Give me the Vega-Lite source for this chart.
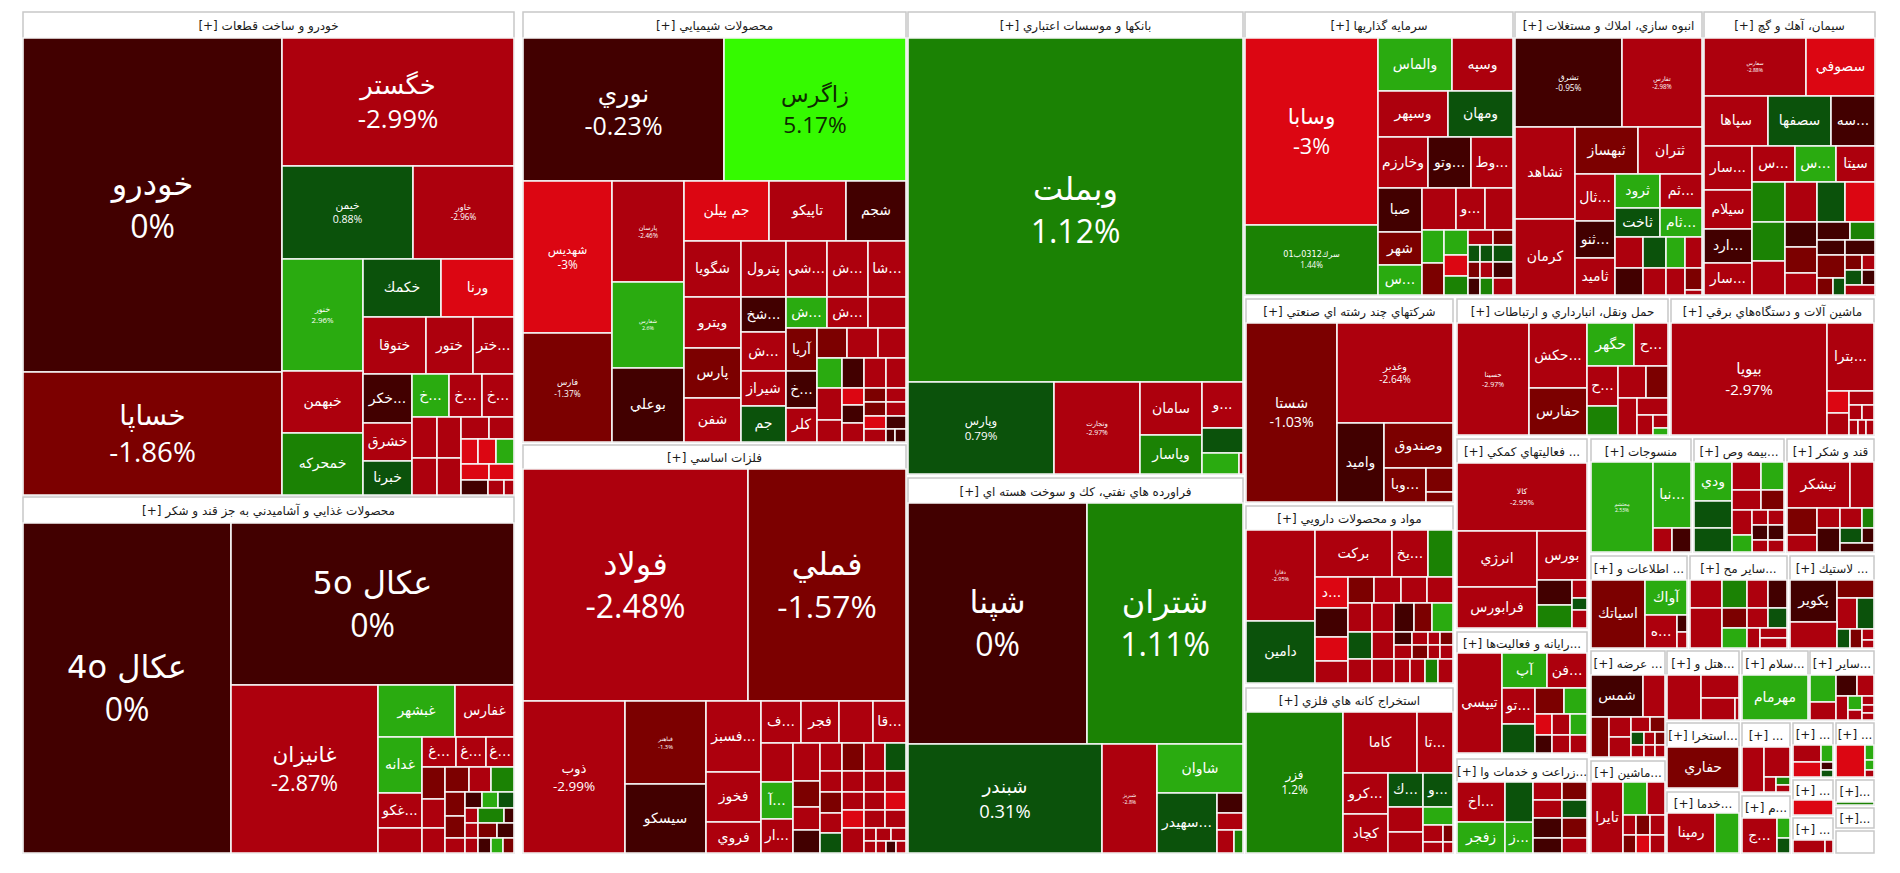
{
"$schema":"https://vega.github.io/schema/vega-lite/v6.json",
"width":1900,"height":873,
"autosize":{"type":"fit","contains":"padding"},
"padding":0,
"background":"white",
"config":{"view":{"stroke":null}},
"datasets":{
"sectors":[
{"t":"[+] خودرو و ساخت قطعات","x0":23,"x1":514,"y0":12,"y1":495,"hy":38},
{"t":"[+] محصولات غذايي و آشاميدني به جز قند و شكر","x0":23,"x1":514,"y0":497,"y1":853,"hy":523},
{"t":"[+] محصولات شيميايي","x0":523,"x1":906,"y0":12,"y1":442,"hy":38},
{"t":"[+] فلزات اساسي","x0":523,"x1":906,"y0":445,"y1":853,"hy":469},
{"t":"[+] بانكها و موسسات اعتباري","x0":908,"x1":1243,"y0":12,"y1":474,"hy":38},
{"t":"[+] فراورده هاي نفتي، كك و سوخت هسته اي","x0":908,"x1":1243,"y0":478,"y1":853,"hy":503},
{"t":"[+] سرمايه گذاريها","x0":1245,"x1":1513,"y0":12,"y1":295,"hy":38},
{"t":"[+] انبوه سازي، املاك و مستغلات","x0":1515,"x1":1702,"y0":12,"y1":295,"hy":38},
{"t":"[+] سيمان، آهك و گچ","x0":1704,"x1":1875,"y0":12,"y1":295,"hy":38},
{"t":"[+] شركتهاي چند رشته اي صنعتي","x0":1246,"x1":1453,"y0":299,"y1":502,"hy":323},
{"t":"[+] مواد و محصولات دارويي","x0":1246,"x1":1453,"y0":506,"y1":683,"hy":530},
{"t":"[+] استخراج كانه هاي فلزي","x0":1246,"x1":1453,"y0":688,"y1":853,"hy":712},
{"t":"[+] حمل ونقل، انبارداري و ارتباطات","x0":1457,"x1":1668,"y0":299,"y1":435,"hy":323},
{"t":"[+] ماشين آلات و دستگاه‌هاي برقي","x0":1671,"x1":1874,"y0":299,"y1":435,"hy":323},
{"t":"[+] فعاليتهاي كمكي ...","x0":1457,"x1":1587,"y0":439,"y1":628,"hy":463},
{"t":"[+] رايانه و فعاليت‌ها...","x0":1457,"x1":1587,"y0":632,"y1":753,"hy":653},
{"t":"[+] زراعت و خدمات وا...","x0":1457,"x1":1587,"y0":759,"y1":853,"hy":782},
{"t":"[+] منسوجات","x0":1591,"x1":1691,"y0":439,"y1":552,"hy":462},
{"t":"[+] بيمه وص...","x0":1694,"x1":1784,"y0":439,"y1":552,"hy":462},
{"t":"[+] قند و شكر","x0":1787,"x1":1874,"y0":439,"y1":552,"hy":462},
{"t":"[+] اطلاعات و ...","x0":1591,"x1":1687,"y0":556,"y1":648,"hy":580},
{"t":"[+] ساير مح...","x0":1690,"x1":1787,"y0":556,"y1":648,"hy":580},
{"t":"[+] لاستيك ...","x0":1790,"x1":1874,"y0":556,"y1":648,"hy":580},
{"t":"[+] عرضه ...","x0":1591,"x1":1665,"y0":651,"y1":757,"hy":675},
{"t":"[+] هتل و...","x0":1667,"x1":1739,"y0":651,"y1":720,"hy":675},
{"t":"[+] سلام...","x0":1742,"x1":1808,"y0":651,"y1":720,"hy":675},
{"t":"[+] ساير...","x0":1810,"x1":1874,"y0":651,"y1":720,"hy":675},
{"t":"[+] استخرا...","x0":1667,"x1":1739,"y0":723,"y1":788,"hy":747},
{"t":"[+] ...","x0":1742,"x1":1790,"y0":723,"y1":792,"hy":747},
{"t":"[+] ...","x0":1793,"x1":1833,"y0":723,"y1":777,"hy":745},
{"t":"[+] ...","x0":1836,"x1":1874,"y0":723,"y1":777,"hy":745},
{"t":"[+] خدما...","x0":1667,"x1":1739,"y0":792,"y1":853,"hy":813},
{"t":"[+] م...","x0":1742,"x1":1790,"y0":796,"y1":853,"hy":818},
{"t":"[+] ...","x0":1793,"x1":1833,"y0":780,"y1":815,"hy":800},
{"t":"[+]...","x0":1836,"x1":1874,"y0":780,"y1":805,"hy":802},
{"t":"[+] ...","x0":1793,"x1":1833,"y0":818,"y1":853,"hy":840},
{"t":"[+]...","x0":1836,"x1":1874,"y0":808,"y1":828,"hy":828},
{"t":"","x0":1836,"x1":1874,"y0":831,"y1":853,"hy":831},
{"t":"[+] ماشين...","x0":1591,"x1":1665,"y0":761,"y1":853,"hy":782}
],
"cells":[
{"s":"خودرو","c":0,"p":1,"x0":23,"x1":282,"y0":38,"y1":372},
{"s":"خساپا","c":-1.86,"p":1,"x0":23,"x1":282,"y0":372,"y1":495},
{"s":"خگستر","c":-2.99,"p":1,"x0":282,"x1":514,"y0":38,"y1":166},
{"s":"خيمن","c":0.88,"p":1,"x0":282,"x1":413,"y0":166,"y1":259},
{"s":"خاور","c":-2.96,"p":1,"x0":413,"x1":514,"y0":166,"y1":259},
{"s":"خنور","c":2.96,"p":1,"x0":282,"x1":363,"y0":259,"y1":371},
{"s":"خكمك","c":0.6,"x0":363,"x1":441,"y0":259,"y1":317},
{"s":"ورنا","c":-3,"x0":441,"x1":514,"y0":259,"y1":317},
{"s":"ختوقا","c":-2.5,"x0":363,"x1":426,"y0":317,"y1":374},
{"s":"ختور","c":-2.5,"x0":426,"x1":473,"y0":317,"y1":374},
{"s":"ختر...","c":-2.5,"x0":473,"x1":514,"y0":317,"y1":374},
{"s":"خبهمن","c":-2.5,"x0":282,"x1":363,"y0":371,"y1":433},
{"s":"خمحركه","c":1.5,"x0":282,"x1":363,"y0":433,"y1":495},
{"s":"خكر...","c":-0.5,"x0":363,"x1":412,"y0":374,"y1":423},
{"s":"خ...","c":2.5,"x0":412,"x1":449,"y0":374,"y1":417},
{"s":"خ...","c":-2.5,"x0":449,"x1":482,"y0":374,"y1":417},
{"s":"خ...","c":-2.5,"x0":482,"x1":514,"y0":374,"y1":417},
{"s":"خشرق","c":-2.5,"x0":363,"x1":412,"y0":423,"y1":461},
{"s":"خبرنا","c":0.5,"x0":363,"x1":412,"y0":461,"y1":495},
{"s":"","c":-2.5,"x0":412,"x1":437,"y0":417,"y1":458},
{"s":"","c":-2.5,"x0":437,"x1":461,"y0":417,"y1":458},
{"s":"","c":-2.5,"x0":412,"x1":437,"y0":458,"y1":495},
{"s":"","c":-2.5,"x0":437,"x1":461,"y0":458,"y1":495},
{"s":"","c":-2.5,"x0":461,"x1":489,"y0":417,"y1":439},
{"s":"","c":-2.5,"x0":489,"x1":514,"y0":417,"y1":439},
{"s":"","c":-3,"x0":461,"x1":478,"y0":439,"y1":464},
{"s":"","c":-3,"x0":478,"x1":496,"y0":439,"y1":464},
{"s":"","c":2.5,"x0":496,"x1":514,"y0":439,"y1":464},
{"s":"","c":-3,"x0":461,"x1":489,"y0":464,"y1":480},
{"s":"","c":-3,"x0":489,"x1":514,"y0":464,"y1":480},
{"s":"","c":-0.5,"x0":461,"x1":488,"y0":480,"y1":495},
{"s":"","c":-2.5,"x0":488,"x1":504,"y0":480,"y1":495},
{"s":"","c":-2.5,"x0":504,"x1":514,"y0":480,"y1":495},

{"s":"4o عكال","c":0,"p":1,"x0":23,"x1":231,"y0":523,"y1":853},
{"s":"5o عكال","c":0,"p":1,"x0":231,"x1":514,"y0":523,"y1":685},
{"s":"غانيزان","c":-2.87,"p":1,"x0":231,"x1":378,"y0":685,"y1":853},
{"s":"غبشهر","c":2.5,"x0":378,"x1":455,"y0":685,"y1":737},
{"s":"غفارس","c":-2.5,"x0":455,"x1":514,"y0":685,"y1":737},
{"s":"غدانه","c":2.5,"x0":378,"x1":422,"y0":737,"y1":793},
{"s":"غ...","c":-2.5,"x0":422,"x1":456,"y0":737,"y1":767},
{"s":"غ...","c":-2.5,"x0":456,"x1":486,"y0":737,"y1":767},
{"s":"غ...","c":-2.5,"x0":486,"x1":514,"y0":737,"y1":767},
{"s":"غكو...","c":-2.5,"x0":378,"x1":422,"y0":793,"y1":828},
{"s":"","c":-2.5,"x0":378,"x1":422,"y0":828,"y1":853},
{"s":"","c":-1.5,"x0":422,"x1":445,"y0":767,"y1":799},
{"s":"","c":-1.5,"x0":445,"x1":469,"y0":767,"y1":792},
{"s":"","c":-2.5,"x0":469,"x1":491,"y0":767,"y1":792},
{"s":"","c":1.5,"x0":491,"x1":514,"y0":767,"y1":792},
{"s":"","c":-2.5,"x0":422,"x1":445,"y0":799,"y1":828},
{"s":"","c":-2.5,"x0":422,"x1":445,"y0":828,"y1":853},
{"s":"","c":-1.5,"x0":445,"x1":465,"y0":792,"y1":816},
{"s":"","c":-1.5,"x0":445,"x1":465,"y0":816,"y1":838},
{"s":"","c":-2.5,"x0":445,"x1":465,"y0":838,"y1":853},
{"s":"","c":-0.5,"x0":465,"x1":482,"y0":792,"y1":808},
{"s":"","c":2.5,"x0":482,"x1":498,"y0":792,"y1":808},
{"s":"","c":0.5,"x0":498,"x1":514,"y0":792,"y1":808},
{"s":"","c":-2.5,"x0":465,"x1":478,"y0":808,"y1":823},
{"s":"","c":1.5,"x0":478,"x1":504,"y0":808,"y1":823},
{"s":"","c":-0.5,"x0":504,"x1":514,"y0":808,"y1":823},
{"s":"","c":-2.5,"x0":465,"x1":478,"y0":823,"y1":838},
{"s":"","c":-1.5,"x0":478,"x1":497,"y0":823,"y1":838},
{"s":"","c":-0.5,"x0":497,"x1":514,"y0":823,"y1":838},
{"s":"","c":-2.5,"x0":465,"x1":478,"y0":838,"y1":853},
{"s":"","c":-0.5,"x0":478,"x1":491,"y0":838,"y1":853},
{"s":"","c":2.5,"x0":491,"x1":503,"y0":838,"y1":853},
{"s":"","c":-1.5,"x0":503,"x1":514,"y0":838,"y1":853},

{"s":"نوري","c":-0.23,"p":1,"x0":523,"x1":724,"y0":38,"y1":181},
{"s":"زاگرس","c":5.17,"p":1,"x0":724,"x1":906,"y0":38,"y1":181},
{"s":"شهديس","c":-3,"p":1,"x0":523,"x1":612,"y0":181,"y1":333},
{"s":"فارس","c":-1.37,"p":1,"x0":523,"x1":612,"y0":333,"y1":442},
{"s":"پارسان","c":-2.46,"p":1,"x0":612,"x1":684,"y0":181,"y1":282},
{"s":"شفارس","c":2.6,"p":1,"x0":612,"x1":684,"y0":282,"y1":368},
{"s":"بوعلي","c":-0.5,"x0":612,"x1":684,"y0":368,"y1":442},
{"s":"جم پيلن","c":-3,"x0":684,"x1":769,"y0":181,"y1":241},
{"s":"تاپيكو","c":-2.5,"x0":769,"x1":846,"y0":181,"y1":241},
{"s":"شجم","c":-0.5,"x0":846,"x1":906,"y0":181,"y1":241},
{"s":"شگويا","c":-2.5,"x0":684,"x1":741,"y0":241,"y1":297},
{"s":"پترول","c":-2.5,"x0":741,"x1":786,"y0":241,"y1":297},
{"s":"شي...","c":-2.5,"x0":786,"x1":827,"y0":241,"y1":297},
{"s":"ش...","c":-2.5,"x0":827,"x1":868,"y0":241,"y1":297},
{"s":"شا...","c":-2.5,"x0":868,"x1":906,"y0":241,"y1":297},
{"s":"ويترو","c":-2.5,"x0":684,"x1":741,"y0":297,"y1":348},
{"s":"شخ...","c":-0.5,"x0":741,"x1":786,"y0":297,"y1":332},
{"s":"ش...","c":2.5,"x0":786,"x1":827,"y0":297,"y1":328},
{"s":"ش...","c":-2.5,"x0":827,"x1":868,"y0":297,"y1":328},
{"s":"","c":-2.5,"x0":868,"x1":906,"y0":297,"y1":328},
{"s":"پارس","c":-1.5,"x0":684,"x1":741,"y0":348,"y1":398},
{"s":"شفن","c":-2.5,"x0":684,"x1":741,"y0":398,"y1":442},
{"s":"ش...","c":-2.5,"x0":741,"x1":786,"y0":332,"y1":371},
{"s":"شيراز","c":-2.5,"x0":741,"x1":786,"y0":371,"y1":406},
{"s":"جم","c":0.5,"x0":741,"x1":786,"y0":406,"y1":442},
{"s":"آريا","c":-1.5,"x0":786,"x1":817,"y0":328,"y1":371},
{"s":"خ...","c":-0.5,"x0":786,"x1":817,"y0":371,"y1":408},
{"s":"كلر","c":-2.5,"x0":786,"x1":817,"y0":408,"y1":442},
{"s":"","c":-1.5,"x0":817,"x1":847,"y0":328,"y1":358},
{"s":"","c":-2.5,"x0":847,"x1":878,"y0":328,"y1":358},
{"s":"","c":-2.5,"x0":878,"x1":906,"y0":328,"y1":358},
{"s":"","c":2.5,"x0":817,"x1":842,"y0":358,"y1":388},
{"s":"","c":-0.5,"x0":842,"x1":864,"y0":358,"y1":388},
{"s":"","c":-2.5,"x0":864,"x1":886,"y0":358,"y1":388},
{"s":"","c":-2.5,"x0":886,"x1":906,"y0":358,"y1":388},
{"s":"","c":-2.5,"x0":817,"x1":842,"y0":388,"y1":420},
{"s":"","c":-2.5,"x0":817,"x1":842,"y0":420,"y1":442},
{"s":"","c":-3,"x0":842,"x1":864,"y0":388,"y1":405},
{"s":"","c":-0.5,"x0":842,"x1":864,"y0":405,"y1":423},
{"s":"","c":-2.5,"x0":842,"x1":864,"y0":423,"y1":442},
{"s":"","c":-1.5,"x0":864,"x1":886,"y0":388,"y1":402},
{"s":"","c":-2.5,"x0":886,"x1":906,"y0":388,"y1":402},
{"s":"","c":-1.5,"x0":864,"x1":886,"y0":402,"y1":416},
{"s":"","c":-2.5,"x0":886,"x1":906,"y0":402,"y1":416},
{"s":"","c":-3,"x0":864,"x1":886,"y0":416,"y1":429},
{"s":"","c":-0.5,"x0":886,"x1":906,"y0":416,"y1":429},
{"s":"","c":-2.5,"x0":864,"x1":886,"y0":429,"y1":442},
{"s":"","c":-0.5,"x0":886,"x1":895,"y0":429,"y1":442},
{"s":"","c":-0.5,"x0":895,"x1":906,"y0":429,"y1":442},

{"s":"فولاد","c":-2.48,"p":1,"x0":523,"x1":748,"y0":469,"y1":701},
{"s":"فملي","c":-1.57,"p":1,"x0":748,"x1":906,"y0":469,"y1":701},
{"s":"ذوب","c":-2.99,"p":1,"x0":523,"x1":625,"y0":701,"y1":853},
{"s":"فباهنر","c":-1.3,"p":1,"x0":625,"x1":706,"y0":701,"y1":784},
{"s":"سيسكو","c":-0.5,"x0":625,"x1":706,"y0":784,"y1":853},
{"s":"فسبز...","c":-2.5,"x0":706,"x1":761,"y0":701,"y1":772},
{"s":"فخوز","c":-2.5,"x0":706,"x1":761,"y0":772,"y1":822},
{"s":"فروي","c":-2.5,"x0":706,"x1":761,"y0":822,"y1":853},
{"s":"ف...","c":-2.5,"x0":761,"x1":801,"y0":701,"y1":743},
{"s":"فجر","c":-2.5,"x0":801,"x1":839,"y0":701,"y1":743},
{"s":"","c":-2.5,"x0":839,"x1":873,"y0":701,"y1":743},
{"s":"قا...","c":-2.5,"x0":873,"x1":906,"y0":701,"y1":743},
{"s":"","c":-2.5,"x0":761,"x1":793,"y0":743,"y1":782},
{"s":"آ...","c":2.5,"x0":761,"x1":793,"y0":782,"y1":819},
{"s":"ار...","c":-2.5,"x0":761,"x1":793,"y0":819,"y1":853},
{"s":"","c":-2.5,"x0":793,"x1":820,"y0":743,"y1":781},
{"s":"","c":-1.5,"x0":793,"x1":820,"y0":781,"y1":807},
{"s":"","c":-2.5,"x0":793,"x1":820,"y0":807,"y1":830},
{"s":"","c":-0.5,"x0":793,"x1":820,"y0":830,"y1":853},
{"s":"","c":-2.5,"x0":820,"x1":842,"y0":743,"y1":771},
{"s":"","c":-1.5,"x0":842,"x1":864,"y0":743,"y1":771},
{"s":"","c":-2.5,"x0":864,"x1":885,"y0":743,"y1":771},
{"s":"","c":0.5,"x0":885,"x1":906,"y0":743,"y1":771},
{"s":"","c":-2.5,"x0":820,"x1":842,"y0":771,"y1":792},
{"s":"","c":-2.5,"x0":842,"x1":864,"y0":771,"y1":792},
{"s":"","c":-2.5,"x0":864,"x1":885,"y0":771,"y1":792},
{"s":"","c":-2.5,"x0":885,"x1":906,"y0":771,"y1":792},
{"s":"","c":-1.5,"x0":820,"x1":842,"y0":792,"y1":813},
{"s":"","c":-2.5,"x0":842,"x1":864,"y0":792,"y1":810},
{"s":"","c":-2.5,"x0":864,"x1":885,"y0":792,"y1":810},
{"s":"","c":-3,"x0":885,"x1":906,"y0":792,"y1":810},
{"s":"","c":-2.5,"x0":820,"x1":842,"y0":813,"y1":833},
{"s":"","c":-3,"x0":842,"x1":864,"y0":810,"y1":828},
{"s":"","c":-2.5,"x0":864,"x1":885,"y0":810,"y1":828},
{"s":"","c":-2.5,"x0":885,"x1":906,"y0":810,"y1":828},
{"s":"","c":0.5,"x0":820,"x1":842,"y0":833,"y1":853},
{"s":"","c":-2.5,"x0":842,"x1":864,"y0":828,"y1":853},
{"s":"","c":-2.5,"x0":864,"x1":876,"y0":828,"y1":841},
{"s":"","c":-2.5,"x0":876,"x1":891,"y0":828,"y1":841},
{"s":"","c":-2.5,"x0":891,"x1":906,"y0":828,"y1":841},
{"s":"","c":-2.5,"x0":864,"x1":876,"y0":841,"y1":853},
{"s":"","c":-2.5,"x0":876,"x1":886,"y0":841,"y1":853},
{"s":"","c":-0.5,"x0":886,"x1":896,"y0":841,"y1":853},
{"s":"","c":-2.5,"x0":896,"x1":906,"y0":841,"y1":853},

{"s":"وبملت","c":1.12,"p":1,"x0":908,"x1":1243,"y0":38,"y1":382},
{"s":"وپارس","c":0.79,"p":1,"x0":908,"x1":1054,"y0":382,"y1":474},
{"s":"وتجارت","c":-2.97,"p":1,"x0":1054,"x1":1140,"y0":382,"y1":474},
{"s":"سامان","c":-2.5,"x0":1140,"x1":1202,"y0":382,"y1":435},
{"s":"وپاسار","c":1.5,"x0":1140,"x1":1202,"y0":435,"y1":474},
{"s":"و...","c":-2.5,"x0":1202,"x1":1243,"y0":382,"y1":428},
{"s":"","c":0.5,"x0":1202,"x1":1243,"y0":428,"y1":453},
{"s":"","c":2.5,"x0":1202,"x1":1239,"y0":453,"y1":474},
{"s":"","c":-2.5,"x0":1239,"x1":1243,"y0":453,"y1":474},

{"s":"شپنا","c":0,"p":1,"x0":908,"x1":1087,"y0":503,"y1":744},
{"s":"شتران","c":1.11,"p":1,"x0":1087,"x1":1243,"y0":503,"y1":744},
{"s":"شبندر","c":0.31,"p":1,"x0":908,"x1":1102,"y0":744,"y1":853},
{"s":"شبريز","c":-2.8,"p":1,"x0":1102,"x1":1157,"y0":744,"y1":853},
{"s":"شاوان","c":2.5,"x0":1157,"x1":1243,"y0":744,"y1":793},
{"s":"سهيدر...","c":0.5,"x0":1157,"x1":1217,"y0":793,"y1":853},
{"s":"","c":-0.5,"x0":1217,"x1":1243,"y0":793,"y1":813},
{"s":"","c":-2.5,"x0":1217,"x1":1243,"y0":813,"y1":830},
{"s":"","c":-2.5,"x0":1217,"x1":1234,"y0":830,"y1":853},
{"s":"","c":1.5,"x0":1234,"x1":1243,"y0":830,"y1":853},

{"s":"وسابا","c":-3,"p":1,"x0":1245,"x1":1378,"y0":38,"y1":225},
{"s":"سرك0312ب01","c":1.44,"p":1,"x0":1245,"x1":1378,"y0":225,"y1":295},
{"s":"والماس","c":2.5,"x0":1378,"x1":1452,"y0":38,"y1":91},
{"s":"وسپه","c":-2.5,"x0":1452,"x1":1513,"y0":38,"y1":91},
{"s":"وسپهر","c":-2.5,"x0":1378,"x1":1448,"y0":91,"y1":137},
{"s":"ومهان","c":0.5,"x0":1448,"x1":1513,"y0":91,"y1":137},
{"s":"وخارزم","c":-2.5,"x0":1378,"x1":1428,"y0":137,"y1":188},
{"s":"وتو...","c":-0.5,"x0":1428,"x1":1471,"y0":137,"y1":188},
{"s":"وط...","c":-2.5,"x0":1471,"x1":1513,"y0":137,"y1":188},
{"s":"صبا","c":-0.5,"x0":1378,"x1":1422,"y0":188,"y1":232},
{"s":"","c":-2.5,"x0":1422,"x1":1456,"y0":188,"y1":230},
{"s":"و...","c":-2.5,"x0":1456,"x1":1485,"y0":188,"y1":230},
{"s":"","c":-2.5,"x0":1485,"x1":1513,"y0":188,"y1":230},
{"s":"شهر","c":-1.5,"x0":1378,"x1":1422,"y0":232,"y1":265},
{"s":"س...","c":2.5,"x0":1378,"x1":1422,"y0":265,"y1":295},
{"s":"","c":2.5,"x0":1422,"x1":1444,"y0":230,"y1":263},
{"s":"","c":2.5,"x0":1444,"x1":1468,"y0":230,"y1":255},
{"s":"","c":-1.5,"x0":1422,"x1":1444,"y0":263,"y1":295},
{"s":"","c":-3,"x0":1444,"x1":1468,"y0":255,"y1":276},
{"s":"","c":1.5,"x0":1444,"x1":1468,"y0":276,"y1":295},
{"s":"","c":-2.5,"x0":1468,"x1":1493,"y0":230,"y1":245},
{"s":"","c":-1.5,"x0":1493,"x1":1513,"y0":230,"y1":245},
{"s":"","c":0.5,"x0":1468,"x1":1480,"y0":245,"y1":262},
{"s":"","c":0.5,"x0":1480,"x1":1493,"y0":245,"y1":262},
{"s":"","c":0.5,"x0":1493,"x1":1513,"y0":245,"y1":262},
{"s":"","c":-1.5,"x0":1468,"x1":1480,"y0":262,"y1":278},
{"s":"","c":-2.5,"x0":1480,"x1":1493,"y0":262,"y1":278},
{"s":"","c":-0.5,"x0":1493,"x1":1513,"y0":262,"y1":278},
{"s":"","c":-0.5,"x0":1468,"x1":1480,"y0":278,"y1":295},
{"s":"","c":1.5,"x0":1480,"x1":1493,"y0":278,"y1":295},
{"s":"","c":-2.5,"x0":1493,"x1":1513,"y0":278,"y1":295},

{"s":"تشرق","c":-0.95,"p":1,"x0":1515,"x1":1622,"y0":38,"y1":127},
{"s":"تفارس","c":-2.98,"p":1,"x0":1622,"x1":1702,"y0":38,"y1":127},
{"s":"ثشاهد","c":-2.5,"x0":1515,"x1":1575,"y0":127,"y1":219},
{"s":"كرمان","c":-2.5,"x0":1515,"x1":1575,"y0":219,"y1":295},
{"s":"ثبهساز","c":-1.5,"x0":1575,"x1":1638,"y0":127,"y1":174},
{"s":"ثتران","c":-2.5,"x0":1638,"x1":1702,"y0":127,"y1":174},
{"s":"ثال...","c":-2.5,"x0":1575,"x1":1615,"y0":174,"y1":221},
{"s":"ثنو...","c":-0.5,"x0":1575,"x1":1615,"y0":221,"y1":258},
{"s":"ثاميد","c":-2.5,"x0":1575,"x1":1615,"y0":258,"y1":295},
{"s":"ثرود","c":2.5,"x0":1615,"x1":1660,"y0":174,"y1":208},
{"s":"ثم...","c":-2.5,"x0":1660,"x1":1702,"y0":174,"y1":208},
{"s":"ثاخت","c":0.5,"x0":1615,"x1":1660,"y0":208,"y1":237},
{"s":"ثام...","c":2.5,"x0":1660,"x1":1702,"y0":208,"y1":237},
{"s":"","c":-2.5,"x0":1615,"x1":1643,"y0":237,"y1":268},
{"s":"","c":0.5,"x0":1643,"x1":1666,"y0":237,"y1":268},
{"s":"","c":2.5,"x0":1666,"x1":1685,"y0":237,"y1":268},
{"s":"","c":-2.5,"x0":1685,"x1":1702,"y0":237,"y1":268},
{"s":"","c":-0.5,"x0":1615,"x1":1643,"y0":268,"y1":295},
{"s":"","c":-2.5,"x0":1643,"x1":1666,"y0":268,"y1":295},
{"s":"","c":-2.5,"x0":1666,"x1":1685,"y0":268,"y1":295},
{"s":"","c":-1.5,"x0":1685,"x1":1702,"y0":268,"y1":290},
{"s":"","c":-2.5,"x0":1685,"x1":1702,"y0":290,"y1":295},

{"s":"سفارس","c":-2.88,"p":1,"x0":1704,"x1":1806,"y0":38,"y1":96},
{"s":"سصوفي","c":-3,"x0":1806,"x1":1875,"y0":38,"y1":96},
{"s":"سپاها","c":-2.5,"x0":1704,"x1":1768,"y0":96,"y1":146},
{"s":"سصفها","c":0.5,"x0":1768,"x1":1831,"y0":96,"y1":146},
{"s":"سه...","c":-0.5,"x0":1831,"x1":1875,"y0":96,"y1":146},
{"s":"سار...","c":-2.5,"x0":1704,"x1":1752,"y0":146,"y1":190},
{"s":"س...","c":-2.5,"x0":1752,"x1":1795,"y0":146,"y1":182},
{"s":"س...","c":2.5,"x0":1795,"x1":1836,"y0":146,"y1":182},
{"s":"سيتا","c":-2.5,"x0":1836,"x1":1875,"y0":146,"y1":182},
{"s":"سيلام","c":-2.5,"x0":1704,"x1":1752,"y0":190,"y1":229},
{"s":"ارد...","c":-0.5,"x0":1704,"x1":1752,"y0":229,"y1":263},
{"s":"سار...","c":-2.5,"x0":1704,"x1":1752,"y0":263,"y1":295},
{"s":"","c":1.5,"x0":1752,"x1":1785,"y0":182,"y1":222},
{"s":"","c":1.5,"x0":1752,"x1":1785,"y0":222,"y1":261},
{"s":"","c":-2.5,"x0":1752,"x1":1785,"y0":261,"y1":295},
{"s":"","c":-2.5,"x0":1785,"x1":1817,"y0":182,"y1":222},
{"s":"","c":0.5,"x0":1817,"x1":1845,"y0":182,"y1":222},
{"s":"","c":-3,"x0":1845,"x1":1875,"y0":182,"y1":222},
{"s":"","c":-0.5,"x0":1785,"x1":1817,"y0":222,"y1":247},
{"s":"","c":-0.5,"x0":1817,"x1":1850,"y0":222,"y1":240},
{"s":"","c":1.5,"x0":1850,"x1":1875,"y0":222,"y1":240},
{"s":"","c":-1.5,"x0":1785,"x1":1817,"y0":247,"y1":273},
{"s":"","c":-2.5,"x0":1785,"x1":1817,"y0":273,"y1":295},
{"s":"","c":-0.5,"x0":1817,"x1":1845,"y0":240,"y1":255},
{"s":"","c":-0.5,"x0":1845,"x1":1875,"y0":240,"y1":255},
{"s":"","c":-1.5,"x0":1817,"x1":1845,"y0":255,"y1":278},
{"s":"","c":-1.5,"x0":1817,"x1":1833,"y0":278,"y1":295},
{"s":"","c":0.5,"x0":1833,"x1":1845,"y0":278,"y1":295},
{"s":"","c":-1.5,"x0":1845,"x1":1862,"y0":255,"y1":270},
{"s":"","c":-2.5,"x0":1862,"x1":1875,"y0":255,"y1":270},
{"s":"","c":0.5,"x0":1845,"x1":1862,"y0":270,"y1":285},
{"s":"","c":-0.5,"x0":1862,"x1":1875,"y0":270,"y1":285},
{"s":"","c":-2.5,"x0":1845,"x1":1875,"y0":285,"y1":295},

{"s":"شستا","c":-1.03,"p":1,"x0":1246,"x1":1337,"y0":323,"y1":502},
{"s":"وغدير","c":-2.64,"p":1,"x0":1337,"x1":1453,"y0":323,"y1":423},
{"s":"واميد","c":-0.5,"x0":1337,"x1":1384,"y0":423,"y1":502},
{"s":"وصندوق","c":-1.5,"x0":1384,"x1":1453,"y0":423,"y1":468},
{"s":"وبا...","c":-1.5,"x0":1384,"x1":1426,"y0":468,"y1":502},
{"s":"","c":-1.5,"x0":1426,"x1":1453,"y0":468,"y1":492},
{"s":"","c":-1.5,"x0":1426,"x1":1453,"y0":492,"y1":502},

{"s":"دفارا","c":-2.95,"p":1,"x0":1246,"x1":1315,"y0":530,"y1":621},
{"s":"دامين","c":0.5,"x0":1246,"x1":1315,"y0":621,"y1":683},
{"s":"بركت","c":-2.5,"x0":1315,"x1":1392,"y0":530,"y1":577},
{"s":"يخ...","c":-2.5,"x0":1392,"x1":1428,"y0":530,"y1":577},
{"s":"","c":1.5,"x0":1428,"x1":1453,"y0":530,"y1":577},
{"s":"د...","c":-3,"x0":1315,"x1":1348,"y0":577,"y1":608},
{"s":"","c":-0.5,"x0":1315,"x1":1348,"y0":608,"y1":637},
{"s":"","c":-3,"x0":1315,"x1":1348,"y0":637,"y1":661},
{"s":"","c":-2.5,"x0":1315,"x1":1348,"y0":661,"y1":683},
{"s":"","c":-1.5,"x0":1348,"x1":1374,"y0":577,"y1":603},
{"s":"","c":-2.5,"x0":1374,"x1":1401,"y0":577,"y1":603},
{"s":"","c":-2.5,"x0":1401,"x1":1427,"y0":577,"y1":603},
{"s":"","c":-2.5,"x0":1427,"x1":1453,"y0":577,"y1":603},
{"s":"","c":-2.5,"x0":1348,"x1":1372,"y0":603,"y1":632},
{"s":"","c":-2.5,"x0":1372,"x1":1394,"y0":603,"y1":632},
{"s":"","c":-0.5,"x0":1394,"x1":1414,"y0":603,"y1":632},
{"s":"","c":-1.5,"x0":1414,"x1":1432,"y0":603,"y1":632},
{"s":"","c":2.5,"x0":1432,"x1":1453,"y0":603,"y1":632},
{"s":"","c":0.5,"x0":1348,"x1":1372,"y0":632,"y1":659},
{"s":"","c":-2.5,"x0":1372,"x1":1394,"y0":632,"y1":659},
{"s":"","c":-0.5,"x0":1394,"x1":1412,"y0":632,"y1":645},
{"s":"","c":-2.5,"x0":1412,"x1":1428,"y0":632,"y1":645},
{"s":"","c":-2.5,"x0":1428,"x1":1440,"y0":632,"y1":645},
{"s":"","c":-1.5,"x0":1440,"x1":1453,"y0":632,"y1":645},
{"s":"","c":-2.5,"x0":1394,"x1":1412,"y0":645,"y1":659},
{"s":"","c":-1.5,"x0":1412,"x1":1428,"y0":645,"y1":659},
{"s":"","c":-2.5,"x0":1428,"x1":1440,"y0":645,"y1":659},
{"s":"","c":-2.5,"x0":1440,"x1":1453,"y0":645,"y1":659},
{"s":"","c":-2.5,"x0":1348,"x1":1372,"y0":659,"y1":683},
{"s":"","c":-2.5,"x0":1372,"x1":1394,"y0":659,"y1":683},
{"s":"","c":-2.5,"x0":1394,"x1":1410,"y0":659,"y1":683},
{"s":"","c":-2.5,"x0":1410,"x1":1425,"y0":659,"y1":683},
{"s":"","c":1.5,"x0":1425,"x1":1438,"y0":659,"y1":683},
{"s":"","c":-2.5,"x0":1438,"x1":1453,"y0":659,"y1":683},

{"s":"فزر","c":1.2,"p":1,"x0":1246,"x1":1343,"y0":712,"y1":853},
{"s":"كاما","c":-2.5,"x0":1343,"x1":1417,"y0":712,"y1":773},
{"s":"تا...","c":-2.5,"x0":1417,"x1":1453,"y0":712,"y1":773},
{"s":"كرو...","c":-2.5,"x0":1343,"x1":1388,"y0":773,"y1":814},
{"s":"كچاد","c":-2.5,"x0":1343,"x1":1388,"y0":814,"y1":853},
{"s":"ك...","c":0.5,"x0":1388,"x1":1423,"y0":773,"y1":807},
{"s":"و...","c":0.5,"x0":1423,"x1":1453,"y0":773,"y1":807},
{"s":"","c":-2.5,"x0":1388,"x1":1423,"y0":807,"y1":832},
{"s":"","c":-2.5,"x0":1388,"x1":1423,"y0":832,"y1":853},
{"s":"","c":2.5,"x0":1423,"x1":1453,"y0":807,"y1":825},
{"s":"","c":-2.5,"x0":1423,"x1":1443,"y0":825,"y1":842},
{"s":"","c":-1.5,"x0":1443,"x1":1453,"y0":825,"y1":842},
{"s":"","c":-2.5,"x0":1423,"x1":1443,"y0":842,"y1":853},
{"s":"","c":-2.5,"x0":1443,"x1":1453,"y0":842,"y1":853},

{"s":"حسينا","c":-2.97,"p":1,"x0":1457,"x1":1529,"y0":323,"y1":435},
{"s":"حكش...","c":-2.5,"x0":1529,"x1":1587,"y0":323,"y1":388},
{"s":"حفارس","c":-1.5,"x0":1529,"x1":1587,"y0":388,"y1":435},
{"s":"حگهر","c":2.5,"x0":1587,"x1":1634,"y0":323,"y1":366},
{"s":"ح...","c":-2.5,"x0":1634,"x1":1668,"y0":323,"y1":366},
{"s":"ح...","c":-2.5,"x0":1587,"x1":1618,"y0":366,"y1":406},
{"s":"","c":1.5,"x0":1587,"x1":1618,"y0":406,"y1":435},
{"s":"","c":-2.5,"x0":1618,"x1":1646,"y0":366,"y1":398},
{"s":"","c":-1.5,"x0":1646,"x1":1668,"y0":366,"y1":398},
{"s":"","c":-2.5,"x0":1618,"x1":1637,"y0":398,"y1":435},
{"s":"","c":-2.5,"x0":1637,"x1":1668,"y0":398,"y1":415},
{"s":"","c":-2.5,"x0":1637,"x1":1653,"y0":415,"y1":435},
{"s":"","c":-2.5,"x0":1653,"x1":1668,"y0":415,"y1":428},
{"s":"","c":2.5,"x0":1653,"x1":1668,"y0":428,"y1":435},

{"s":"بيويا","c":-2.97,"p":1,"x0":1671,"x1":1827,"y0":323,"y1":435},
{"s":"بترا...","c":-2.5,"x0":1827,"x1":1874,"y0":323,"y1":391},
{"s":"","c":-3,"x0":1827,"x1":1849,"y0":391,"y1":413},
{"s":"","c":-2.5,"x0":1849,"x1":1874,"y0":391,"y1":405},
{"s":"","c":-2.5,"x0":1827,"x1":1849,"y0":413,"y1":435},
{"s":"","c":-2.5,"x0":1849,"x1":1862,"y0":405,"y1":420},
{"s":"","c":-2.5,"x0":1862,"x1":1874,"y0":405,"y1":420},
{"s":"","c":-2.5,"x0":1849,"x1":1858,"y0":420,"y1":435},
{"s":"","c":-2.5,"x0":1858,"x1":1866,"y0":420,"y1":435},
{"s":"","c":-2.5,"x0":1866,"x1":1874,"y0":420,"y1":435},

{"s":"كالا","c":-2.95,"p":1,"x0":1457,"x1":1587,"y0":463,"y1":531},
{"s":"انرژي","c":-2.5,"x0":1457,"x1":1537,"y0":531,"y1":587},
{"s":"بورس","c":-2.5,"x0":1537,"x1":1587,"y0":531,"y1":580},
{"s":"فرابورس","c":-2.5,"x0":1457,"x1":1537,"y0":587,"y1":628},
{"s":"","c":-0.5,"x0":1537,"x1":1572,"y0":580,"y1":605},
{"s":"","c":1.5,"x0":1537,"x1":1572,"y0":605,"y1":628},
{"s":"","c":-2.5,"x0":1572,"x1":1587,"y0":580,"y1":598},
{"s":"","c":0.5,"x0":1572,"x1":1587,"y0":598,"y1":610},
{"s":"","c":-2.5,"x0":1572,"x1":1587,"y0":610,"y1":628},

{"s":"تيپسي","c":-2.5,"x0":1457,"x1":1502,"y0":653,"y1":753},
{"s":"آپ","c":2.5,"x0":1502,"x1":1547,"y0":653,"y1":688},
{"s":"فن...","c":-2.5,"x0":1547,"x1":1587,"y0":653,"y1":688},
{"s":"تو...","c":-2.5,"x0":1502,"x1":1535,"y0":688,"y1":724},
{"s":"","c":0.5,"x0":1502,"x1":1535,"y0":724,"y1":753},
{"s":"","c":-1.5,"x0":1535,"x1":1564,"y0":688,"y1":714},
{"s":"","c":2.5,"x0":1564,"x1":1587,"y0":688,"y1":714},
{"s":"","c":-3,"x0":1535,"x1":1552,"y0":714,"y1":735},
{"s":"","c":-2.5,"x0":1552,"x1":1570,"y0":714,"y1":735},
{"s":"","c":2.5,"x0":1570,"x1":1587,"y0":714,"y1":735},
{"s":"","c":-0.5,"x0":1535,"x1":1552,"y0":735,"y1":753},
{"s":"","c":-2.5,"x0":1552,"x1":1570,"y0":735,"y1":753},
{"s":"","c":-2.5,"x0":1570,"x1":1587,"y0":735,"y1":753},

{"s":"اخ...","c":-2.5,"x0":1457,"x1":1505,"y0":782,"y1":822},
{"s":"زفجر","c":2.5,"x0":1457,"x1":1505,"y0":822,"y1":853},
{"s":"ز...","c":2.5,"x0":1505,"x1":1533,"y0":822,"y1":853},
{"s":"","c":0.5,"x0":1505,"x1":1533,"y0":782,"y1":822},
{"s":"","c":-2.5,"x0":1533,"x1":1562,"y0":782,"y1":800},
{"s":"","c":-1.5,"x0":1562,"x1":1587,"y0":782,"y1":800},
{"s":"","c":-2.5,"x0":1533,"x1":1562,"y0":800,"y1":818},
{"s":"","c":0.5,"x0":1562,"x1":1587,"y0":800,"y1":818},
{"s":"","c":-0.5,"x0":1533,"x1":1562,"y0":818,"y1":838},
{"s":"","c":-1.5,"x0":1562,"x1":1587,"y0":818,"y1":838},
{"s":"","c":-0.5,"x0":1533,"x1":1562,"y0":838,"y1":853},
{"s":"","c":-2.5,"x0":1562,"x1":1587,"y0":838,"y1":853},

{"s":"محتشم","c":2.53,"p":1,"x0":1591,"x1":1653,"y0":462,"y1":552},
{"s":"نبا...","c":2.5,"x0":1653,"x1":1691,"y0":462,"y1":528},
{"s":"","c":-2.5,"x0":1653,"x1":1672,"y0":528,"y1":552},
{"s":"","c":-0.5,"x0":1672,"x1":1691,"y0":528,"y1":552},

{"s":"ودي","c":2.5,"x0":1694,"x1":1732,"y0":462,"y1":501},
{"s":"","c":0.5,"x0":1694,"x1":1732,"y0":501,"y1":528},
{"s":"","c":0.5,"x0":1694,"x1":1732,"y0":528,"y1":552},
{"s":"","c":-2.5,"x0":1732,"x1":1761,"y0":462,"y1":490},
{"s":"","c":2.5,"x0":1761,"x1":1784,"y0":462,"y1":490},
{"s":"","c":-2.5,"x0":1732,"x1":1761,"y0":490,"y1":510},
{"s":"","c":-1.5,"x0":1761,"x1":1784,"y0":490,"y1":510},
{"s":"","c":-2.5,"x0":1732,"x1":1752,"y0":510,"y1":535},
{"s":"","c":-2.5,"x0":1752,"x1":1768,"y0":510,"y1":525},
{"s":"","c":-2.5,"x0":1768,"x1":1784,"y0":510,"y1":525},
{"s":"","c":-0.5,"x0":1752,"x1":1768,"y0":525,"y1":540},
{"s":"","c":-0.5,"x0":1768,"x1":1784,"y0":525,"y1":540},
{"s":"","c":-2.5,"x0":1752,"x1":1768,"y0":540,"y1":552},
{"s":"","c":-2.5,"x0":1768,"x1":1784,"y0":540,"y1":552},
{"s":"","c":2.5,"x0":1732,"x1":1752,"y0":535,"y1":552},

{"s":"نيشكر","c":-2.5,"x0":1787,"x1":1850,"y0":462,"y1":508},
{"s":"","c":-2.5,"x0":1850,"x1":1874,"y0":462,"y1":508},
{"s":"","c":-1.5,"x0":1787,"x1":1817,"y0":508,"y1":535},
{"s":"","c":-2.5,"x0":1787,"x1":1817,"y0":535,"y1":552},
{"s":"","c":-2.5,"x0":1817,"x1":1840,"y0":508,"y1":528},
{"s":"","c":-2.5,"x0":1840,"x1":1862,"y0":508,"y1":528},
{"s":"","c":1.5,"x0":1862,"x1":1874,"y0":508,"y1":528},
{"s":"","c":-0.5,"x0":1817,"x1":1840,"y0":528,"y1":552},
{"s":"","c":0.5,"x0":1840,"x1":1862,"y0":528,"y1":543},
{"s":"","c":-0.5,"x0":1862,"x1":1874,"y0":528,"y1":543},
{"s":"","c":-0.5,"x0":1840,"x1":1874,"y0":543,"y1":552},

{"s":"اسياتك","c":-1.5,"x0":1591,"x1":1645,"y0":580,"y1":648},
{"s":"آواك","c":2.5,"x0":1645,"x1":1687,"y0":580,"y1":615},
{"s":"ه...","c":-2.5,"x0":1645,"x1":1677,"y0":615,"y1":648},
{"s":"","c":-0.5,"x0":1677,"x1":1687,"y0":615,"y1":632},
{"s":"","c":-2.5,"x0":1677,"x1":1687,"y0":632,"y1":648},

{"s":"","c":-2.5,"x0":1690,"x1":1722,"y0":580,"y1":608},
{"s":"","c":-2.5,"x0":1690,"x1":1722,"y0":608,"y1":648},
{"s":"","c":1.5,"x0":1722,"x1":1747,"y0":580,"y1":608},
{"s":"","c":-1.5,"x0":1722,"x1":1747,"y0":608,"y1":628},
{"s":"","c":2.5,"x0":1722,"x1":1747,"y0":628,"y1":648},
{"s":"","c":-2.5,"x0":1747,"x1":1768,"y0":580,"y1":608},
{"s":"","c":-0.5,"x0":1768,"x1":1787,"y0":580,"y1":608},
{"s":"","c":-2.5,"x0":1747,"x1":1768,"y0":608,"y1":628},
{"s":"","c":0.5,"x0":1768,"x1":1787,"y0":608,"y1":628},
{"s":"","c":-2.5,"x0":1747,"x1":1760,"y0":628,"y1":648},
{"s":"","c":-2.5,"x0":1760,"x1":1787,"y0":628,"y1":638},
{"s":"","c":-2.5,"x0":1760,"x1":1787,"y0":638,"y1":648},

{"s":"پكوير","c":-0.5,"x0":1790,"x1":1837,"y0":580,"y1":622},
{"s":"","c":-1.5,"x0":1837,"x1":1874,"y0":580,"y1":598},
{"s":"","c":-2.5,"x0":1837,"x1":1857,"y0":598,"y1":629},
{"s":"","c":0.5,"x0":1857,"x1":1874,"y0":598,"y1":629},
{"s":"","c":-2.5,"x0":1790,"x1":1837,"y0":622,"y1":648},
{"s":"","c":0.5,"x0":1837,"x1":1850,"y0":629,"y1":648},
{"s":"","c":-1.5,"x0":1850,"x1":1862,"y0":629,"y1":648},
{"s":"","c":-2.5,"x0":1862,"x1":1874,"y0":629,"y1":640},
{"s":"","c":-2.5,"x0":1862,"x1":1874,"y0":640,"y1":648},

{"s":"شمس","c":-0.5,"x0":1591,"x1":1643,"y0":675,"y1":717},
{"s":"","c":-2.5,"x0":1643,"x1":1665,"y0":675,"y1":717},
{"s":"","c":-1.5,"x0":1591,"x1":1609,"y0":717,"y1":757},
{"s":"","c":-2.5,"x0":1609,"x1":1631,"y0":717,"y1":737},
{"s":"","c":-2.5,"x0":1609,"x1":1631,"y0":737,"y1":757},
{"s":"","c":-2.5,"x0":1631,"x1":1650,"y0":717,"y1":732},
{"s":"","c":-1.5,"x0":1650,"x1":1665,"y0":717,"y1":732},
{"s":"","c":0.5,"x0":1631,"x1":1644,"y0":732,"y1":745},
{"s":"","c":-2.5,"x0":1644,"x1":1655,"y0":732,"y1":745},
{"s":"","c":-1.5,"x0":1655,"x1":1665,"y0":732,"y1":745},
{"s":"","c":-2.5,"x0":1631,"x1":1644,"y0":745,"y1":757},
{"s":"","c":-2.5,"x0":1644,"x1":1655,"y0":745,"y1":757},
{"s":"","c":-2.5,"x0":1655,"x1":1665,"y0":745,"y1":757},

{"s":"","c":-2.5,"x0":1667,"x1":1701,"y0":675,"y1":720},
{"s":"","c":-2.5,"x0":1701,"x1":1739,"y0":675,"y1":698},
{"s":"","c":-2.5,"x0":1701,"x1":1735,"y0":698,"y1":720},
{"s":"","c":-2.5,"x0":1735,"x1":1739,"y0":698,"y1":720},

{"s":"مهرمام","c":2.5,"x0":1742,"x1":1808,"y0":675,"y1":720},

{"s":"","c":2.5,"x0":1810,"x1":1836,"y0":675,"y1":702},
{"s":"","c":-2.5,"x0":1810,"x1":1836,"y0":702,"y1":720},
{"s":"","c":-0.5,"x0":1836,"x1":1857,"y0":675,"y1":696},
{"s":"","c":-2.5,"x0":1857,"x1":1874,"y0":675,"y1":696},
{"s":"","c":-2.5,"x0":1836,"x1":1848,"y0":696,"y1":720},
{"s":"","c":2.5,"x0":1848,"x1":1862,"y0":696,"y1":710},
{"s":"","c":-2.5,"x0":1848,"x1":1862,"y0":710,"y1":720},
{"s":"","c":-2.5,"x0":1862,"x1":1874,"y0":696,"y1":705},
{"s":"","c":-2.5,"x0":1862,"x1":1874,"y0":705,"y1":713},
{"s":"","c":-2.5,"x0":1862,"x1":1874,"y0":713,"y1":720},

{"s":"حفاري","c":-1.5,"x0":1667,"x1":1739,"y0":747,"y1":788},

{"s":"","c":-2.5,"x0":1742,"x1":1764,"y0":747,"y1":792},
{"s":"","c":-2.5,"x0":1764,"x1":1790,"y0":747,"y1":777},
{"s":"","c":-2.5,"x0":1764,"x1":1776,"y0":777,"y1":792},
{"s":"","c":1.5,"x0":1776,"x1":1790,"y0":777,"y1":785},
{"s":"","c":-2.5,"x0":1776,"x1":1790,"y0":785,"y1":792},

{"s":"","c":-2.5,"x0":1793,"x1":1821,"y0":745,"y1":762},
{"s":"","c":2.5,"x0":1821,"x1":1833,"y0":745,"y1":762},
{"s":"","c":-3,"x0":1793,"x1":1821,"y0":762,"y1":777},
{"s":"","c":-0.5,"x0":1821,"x1":1833,"y0":762,"y1":770},
{"s":"","c":0.5,"x0":1821,"x1":1833,"y0":770,"y1":777},

{"s":"","c":-3,"x0":1836,"x1":1865,"y0":745,"y1":777},
{"s":"","c":2.5,"x0":1865,"x1":1874,"y0":745,"y1":760},
{"s":"","c":2.5,"x0":1865,"x1":1874,"y0":760,"y1":770},
{"s":"","c":-2.5,"x0":1865,"x1":1874,"y0":770,"y1":777},

{"s":"رمپنا","c":-2.5,"x0":1667,"x1":1715,"y0":813,"y1":853},
{"s":"","c":2.5,"x0":1715,"x1":1739,"y0":813,"y1":853},

{"s":"ج...","c":-2.5,"x0":1742,"x1":1777,"y0":818,"y1":853},
{"s":"","c":2.5,"x0":1777,"x1":1790,"y0":818,"y1":838},
{"s":"","c":0.5,"x0":1777,"x1":1790,"y0":838,"y1":853},

{"s":"","c":-3,"x0":1793,"x1":1833,"y0":800,"y1":815},
{"s":"","c":1.5,"x0":1836,"x1":1874,"y0":802,"y1":805},
{"s":"","c":-2.5,"x0":1793,"x1":1825,"y0":840,"y1":853},
{"s":"","c":-2.5,"x0":1825,"x1":1833,"y0":840,"y1":853},

{"s":"تايرا","c":-2.5,"x0":1591,"x1":1623,"y0":782,"y1":853},
{"s":"","c":2.5,"x0":1623,"x1":1647,"y0":782,"y1":815},
{"s":"","c":-2.5,"x0":1647,"x1":1665,"y0":782,"y1":815},
{"s":"","c":-2.5,"x0":1623,"x1":1636,"y0":815,"y1":835},
{"s":"","c":-1.5,"x0":1636,"x1":1650,"y0":815,"y1":835},
{"s":"","c":-2.5,"x0":1650,"x1":1665,"y0":815,"y1":835},
{"s":"","c":-1.5,"x0":1623,"x1":1636,"y0":835,"y1":853},
{"s":"","c":-3,"x0":1636,"x1":1650,"y0":835,"y1":853},
{"s":"","c":-2.5,"x0":1650,"x1":1665,"y0":835,"y1":853}
]
},
"layer":[
{"data":{"name":"sectors"},
 "mark":{"type":"rect","fill":"white","stroke":"#c8c8c8","strokeWidth":1.5},
 "encoding":{
  "x":{"field":"x0","type":"quantitative","scale":{"domain":[0,1900],"nice":false,"zero":false},"axis":null},
  "x2":{"field":"x1"},
  "y":{"field":"y0","type":"quantitative","scale":{"domain":[0,873],"nice":false,"zero":false,"reverse":true},"axis":null},
  "y2":{"field":"y1"}}},
{"data":{"name":"sectors"},
 "transform":[
  {"filter":"datum.t != ''"},
  {"calculate":"(datum.x0+datum.x1)/2","as":"xc"},
  {"calculate":"(datum.y0+datum.hy)/2+1","as":"yc"},
  {"calculate":"'\u2066' + datum.t + '\u2069'","as":"tt"}],
 "mark":{"type":"text","font":"DejaVu Sans","fontSize":12,"color":"#1a1a1a","align":"center","baseline":"middle"},
 "encoding":{
  "x":{"field":"xc","type":"quantitative"},
  "y":{"field":"yc","type":"quantitative"},
  "text":{"field":"tt"}}},
{"data":{"name":"cells"},
 "mark":{"type":"rect","stroke":"#f6f6f6","strokeWidth":1.6},
 "encoding":{
  "x":{"field":"x0","type":"quantitative"},
  "x2":{"field":"x1"},
  "y":{"field":"y0","type":"quantitative"},
  "y2":{"field":"y1"},
  "color":{"field":"c","type":"quantitative","legend":null,
   "scale":{"type":"threshold","domain":[-2.995,-2,-1,0.001,1,2,3],
    "range":["#dc0612","#ad000d","#7c0000","#420000","#0b520b","#1b8204","#2aab10","#35fa00"]}}}},
{"data":{"name":"cells"},
 "transform":[
  {"filter":"datum.s != '' && datum.p != 1"},
  {"calculate":"(datum.x0+datum.x1)/2","as":"xc"},
  {"calculate":"(datum.y0+datum.y1)/2","as":"yc"},
  {"calculate":"'\u2066' + datum.s + '\u2069'","as":"lab"}],
 "mark":{"type":"text","font":"DejaVu Sans","fontSize":14,"align":"center","baseline":"middle"},
 "encoding":{
  "x":{"field":"xc","type":"quantitative"},
  "y":{"field":"yc","type":"quantitative"},
  "text":{"field":"lab"},
  "color":{"condition":{"test":"datum.c >= 3","value":"#0e2a00"},"value":"white"}}},
{"data":{"name":"cells"},
 "transform":[
  {"filter":"datum.p == 1"},
  {"calculate":"(datum.x0+datum.x1)/2","as":"xc"},
  {"calculate":"max(5, min(32, (datum.x1-datum.x0)*(datum.y1-datum.y0)/1150))","as":"fs"},
  {"calculate":"(datum.y0+datum.y1)/2 - 0.1*datum.fs","as":"ys"},
  {"calculate":"'\u2066' + datum.s + '\u2069'","as":"lab"}],
 "mark":{"type":"text","font":"DejaVu Sans","align":"center","baseline":"bottom"},
 "encoding":{
  "x":{"field":"xc","type":"quantitative"},
  "y":{"field":"ys","type":"quantitative"},
  "text":{"field":"lab"},
  "size":{"field":"fs","type":"quantitative","scale":null},
  "color":{"condition":{"test":"datum.c >= 3","value":"#0e2a00"},"value":"white"}}},
{"data":{"name":"cells"},
 "transform":[
  {"filter":"datum.p == 1"},
  {"calculate":"(datum.x0+datum.x1)/2","as":"xc"},
  {"calculate":"max(5, min(32, (datum.x1-datum.x0)*(datum.y1-datum.y0)/1150))","as":"fs"},
  {"calculate":"(datum.y0+datum.y1)/2 + 0.24*datum.fs","as":"yp"},
  {"calculate":"'\u2066' + datum.c + '%' + '\u2069'","as":"pct"}],
 "mark":{"type":"text","font":"Open Sans, DejaVu Sans","align":"center","baseline":"top"},
 "encoding":{
  "x":{"field":"xc","type":"quantitative"},
  "y":{"field":"yp","type":"quantitative"},
  "text":{"field":"pct"},
  "size":{"field":"fs","type":"quantitative","scale":null},
  "color":{"condition":{"test":"datum.c >= 3","value":"#0e2a00"},"value":"white"}}}
]
}
